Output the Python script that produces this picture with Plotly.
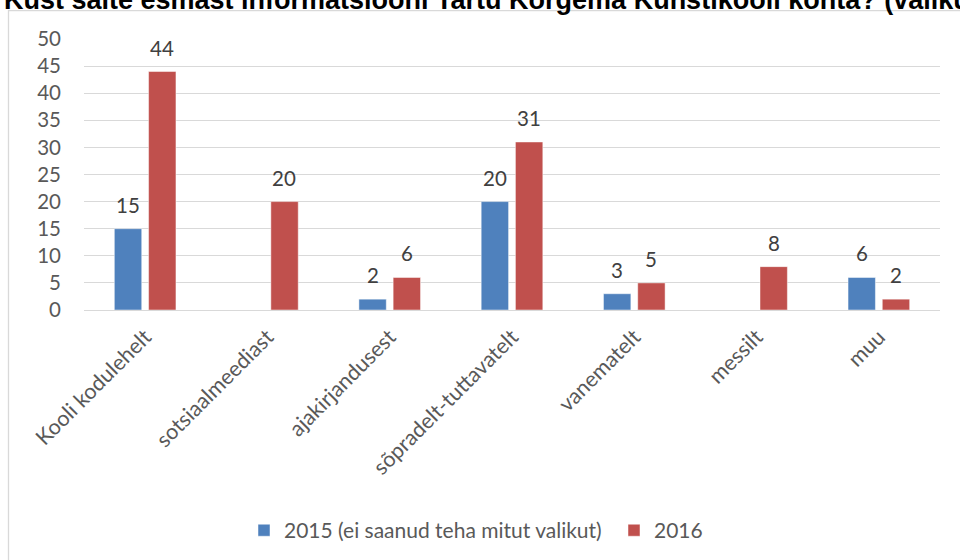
import plotly.graph_objects as go

categories = ["Kooli kodulehelt", "sotsiaalmeediast", "ajakirjandusest",
              "sõpradelt-tuttavatelt", "vanematelt", "messilt", "muu"]
values_2015 = [15, None, 2, 20, 3, None, 6]
values_2016 = [44, 20, 6, 31, 5, 8, 2]
series_names = ["2015 (ei saanud teha mitut valikut)", "2016"]
y_ticks = [0, 5, 10, 15, 20, 25, 30, 35, 40, 45, 50]
title_text = "Kust saite esmast informatsiooni Tartu Kõrgema Kunstikooli kohta? (valikus oli võimalik valida mitu vastust)"

BLUE = "#4F81BD"
RED = "#C0504D"
FONT = "Lato"
TXT = "#595959"
FS = 20.5

fig = go.Figure()
fig.add_trace(go.Bar(x=categories, y=values_2015, name=series_names[0],
                     marker=dict(color=BLUE, line=dict(color="rgba(255,255,255,0.6)", width=0.8))))
fig.add_trace(go.Bar(x=categories, y=values_2016, name=series_names[1],
                     marker=dict(color=RED, line=dict(color="rgba(255,255,255,0.6)", width=0.8))))

annotations = []
for vals, shift in ((values_2015, -17), (values_2016, 17)):
    for c, v in zip(categories, vals):
        if v is None:
            continue
        annotations.append(dict(x=c, y=v, xref="x", yref="y", text=str(v),
                                showarrow=False, xshift=shift, yshift=24,
                                yanchor="middle",
                                font=dict(family=FONT, size=FS, color="#404040")))

W, H = 960, 560
L, R, T, B = 84, 20, 38.5, 250
ph = H - T - B
pw = W - L - R

annotations.append(dict(text="<b>" + title_text + "</b>", xref="paper", yref="paper",
                        x=(2 - L) / pw, y=(H - B + 0.5) / ph, xanchor="left", yanchor="middle",
                        showarrow=False,
                        font=dict(family="Liberation Sans", size=27, color="#000000")))

fig.update_layout(
    width=W, height=H,
    margin=dict(l=L, r=R, t=T, b=B, pad=0, autoexpand=False),
    paper_bgcolor="white", plot_bgcolor="white",
    barmode="group", bargap=0.44, bargroupgap=0.2,
    showlegend=True,
    legend=dict(orientation="h", x=(244 - L) / pw, xanchor="left",
                y=(H - B - 531) / ph, yanchor="middle",
                font=dict(family=FONT, size=21, color=TXT),
                itemwidth=30, traceorder="normal",
                entrywidth=325, entrywidthmode="pixels"),
    annotations=annotations,
    shapes=[dict(type="rect", xref="paper", yref="paper",
                 x0=(8.5 - L) / pw, x1=1.2, y0=-1.5, y1=(H - B - 10) / ph,
                 line=dict(color="#D9D9D9", width=1.3), layer="below")],
)
fig.update_xaxes(tickangle=-45, tickfont=dict(family=FONT, size=21.5, color=TXT),
                 showline=True, linecolor="#D9D9D9", linewidth=1, ticks="",
                 ticklabelstandoff=5,
                 showgrid=False, automargin=False)
fig.update_yaxes(range=[0, 50], tickvals=y_ticks, showgrid=True, gridcolor="#D9D9D9",
                 gridwidth=1, zeroline=False, ticks="", ticklabelstandoff=22,
                 automargin=False,
                 tickfont=dict(family=FONT, size=FS, color=TXT))

fig.write_html("out.html", config={"displayModeBar": False},
               post_script="document.body.style.margin='0';document.body.style.overflow='hidden';")
